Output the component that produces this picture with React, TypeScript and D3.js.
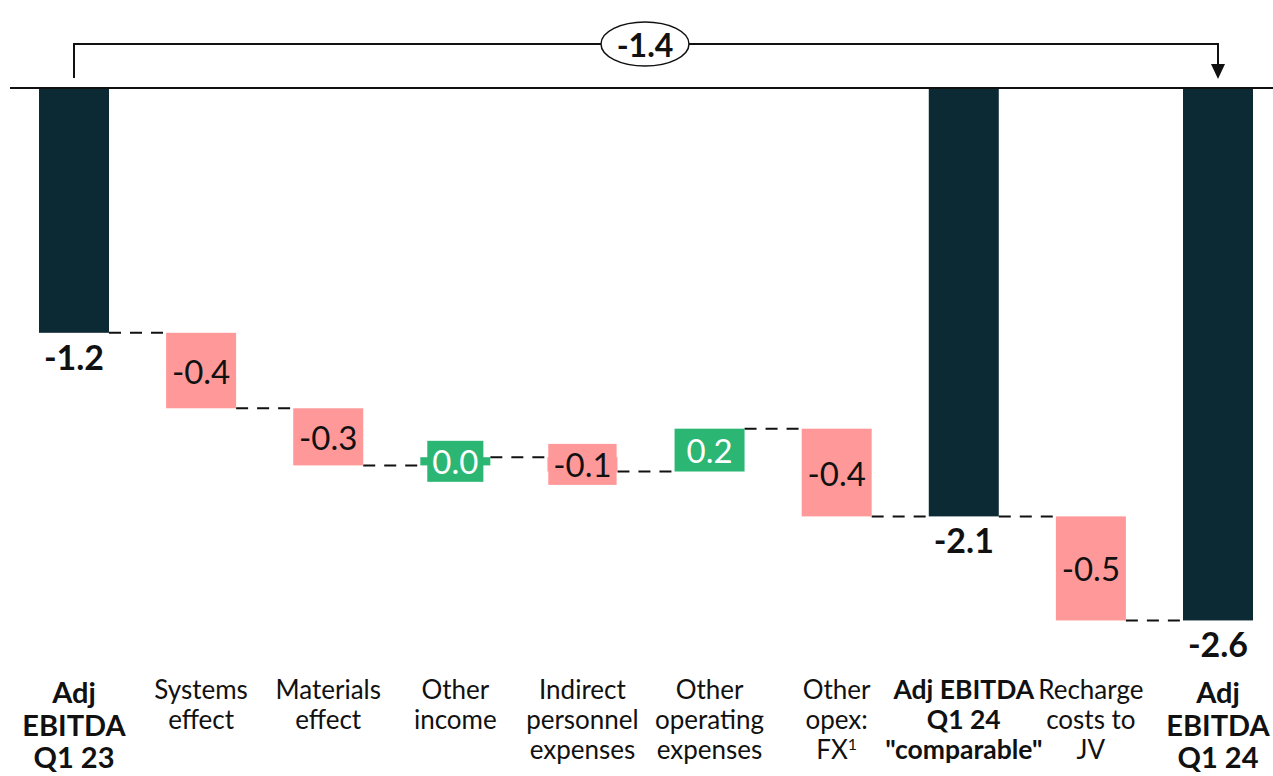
import React, { useRef, useEffect } from 'react'
import * as d3 from 'd3'

// bridge data (EUR m)
const categories = ['Adj EBITDA Q1 23', 'Systems effect', 'Materials effect', 'Other income', 'Indirect personnel expenses', 'Other operating expenses', 'Other opex: FX', 'Adj EBITDA Q1 24 comparable', 'Recharge costs to JV', 'Adj EBITDA Q1 24']
const kinds = ['total', 'delta', 'delta', 'delta', 'delta', 'delta', 'delta', 'total', 'delta', 'total']
const values = [-1.2, -0.37, -0.28, 0.04, -0.07, 0.21, -0.43, -2.1, -0.51, -2.61]
const labelLines = [
  ['Adj', 'EBITDA', 'Q1 23'],
  ['Systems', 'effect'],
  ['Materials', 'effect'],
  ['Other', 'income'],
  ['Indirect', 'personnel', 'expenses'],
  ['Other', 'operating', 'expenses'],
  ['Other', 'opex:', 'FX'],
  ['Adj EBITDA', 'Q1 24', '"comparable"'],
  ['Recharge', 'costs to', 'JV'],
  ['Adj', 'EBITDA', 'Q1 24'],
]
const footnoteIdx = 6

const DARK = '#0b2a33'
const RED = '#ff9999'
const GREEN = '#2bb673'
const FONT = 'Lato, "Open Sans", sans-serif'

function App() {
  const svgRef = useRef<SVGSVGElement>(null)

  useEffect(() => {
    const svg = d3.select(svgRef.current)
    svg.selectAll('*').remove()

    const x = d3.scalePoint<string>().domain(categories).range([74, 1218])
    const y = d3.scaleLinear().domain([0, -2.6]).range([88, 618.4])
    const bw = 70

    // running totals
    let run = 0
    const steps = categories.map((c, i) => {
      let start, end
      if (kinds[i] === 'total') { start = 0; end = values[i] }
      else { start = run; end = run + values[i] }
      run = end
      return { c, i, start, end, kind: kinds[i], v: values[i] }
    })

    // connectors
    svg.selectAll('.conn').data(steps.slice(0, -1)).join('line')
      .attr('class', 'conn')
      .attr('x1', d => x(d.c)! + bw / 2)
      .attr('x2', d => x(categories[d.i + 1])! - bw / 2)
      .attr('y1', d => y(d.end)).attr('y2', d => y(d.end))
      .attr('stroke', '#111').attr('stroke-width', 2).attr('stroke-dasharray', '12,9')

    // bars
    svg.selectAll('.bar').data(steps).join('rect')
      .attr('class', 'bar')
      .attr('x', d => x(d.c)! - bw / 2)
      .attr('y', d => y(Math.max(d.start, d.end)))
      .attr('width', bw)
      .attr('height', d => Math.abs(y(d.start) - y(d.end)))
      .attr('fill', d => d.kind === 'total' ? DARK : d.v < 0 ? RED : GREEN)

    // baseline
    svg.append('line').attr('x1', 10).attr('x2', 1273).attr('y1', y(0)).attr('y2', y(0))
      .attr('stroke', '#111').attr('stroke-width', 2)

    // delta labels
    const deltas = steps.filter(d => d.kind === 'delta')
    deltas.forEach(d => {
      const cx = x(d.c)!
      const cy = (y(d.start) + y(d.end)) / 2
      const h = Math.abs(y(d.start) - y(d.end))
      const col = d.v < 0 ? RED : GREEN
      const g = svg.append('g')
      const t = g.append('text')
        .attr('x', cx).attr('y', cy)
        .attr('text-anchor', 'middle').attr('dominant-baseline', 'central')
        .attr('font-family', FONT).attr('font-size', 33)
        .attr('fill', d.v < 0 ? '#111' : '#fff')
        .text(d.v.toFixed(1))
      if (h < 41) {
        const w = (t.node() as SVGTextElement).getComputedTextLength() + 10
        g.insert('rect', 'text').attr('x', cx - w / 2).attr('y', cy - 20.5)
          .attr('width', w).attr('height', 41).attr('fill', col)
      }
    })

    // total labels
    svg.selectAll('.tot').data(steps.filter(d => d.kind === 'total')).join('text')
      .attr('class', 'tot')
      .attr('x', d => x(d.c)!).attr('y', d => y(d.end) + 37)
      .attr('text-anchor', 'middle')
      .attr('font-family', FONT).attr('font-size', 34).attr('font-weight', 'bold')
      .attr('fill', '#111')
      .text(d => d.v.toFixed(1))

    // category labels
    steps.forEach(d => {
      const big = d.kind === 'total' && d.i !== 7
      const fs = big ? 29 : d.kind === 'total' ? 26.5 : 26
      const lh = big ? 32.5 : 30
      const y0 = big ? 703 : 699
      const t = svg.append('text')
        .attr('x', x(d.c)!).attr('text-anchor', 'middle')
        .attr('font-family', FONT).attr('font-size', fs)
        .attr('font-weight', d.kind === 'total' ? 'bold' : 'normal')
        .attr('fill', '#111')
      labelLines[d.i].forEach((ln, k) => {
        t.append('tspan').attr('x', x(d.c)!).attr('y', y0 + k * lh).text(ln)
      })
      if (d.i === footnoteIdx) {
        t.select('tspan:last-child').append('tspan')
          .attr('font-size', 16).attr('dy', -9).text('1')
      }
    })

    // top bridge bracket
    const first = steps[0], last = steps[steps.length - 1]
    const x1 = x(first.c)!, x2 = x(last.c)!
    const top = 44
    svg.append('path')
      .attr('d', `M${x1},78 V${top} H${x2} V66`)
      .attr('fill', 'none').attr('stroke', '#111').attr('stroke-width', 2)
    svg.append('path')
      .attr('d', `M${x2 - 7},64 L${x2 + 7},64 L${x2},79 Z`)
      .attr('fill', '#111')
    const mx = 645
    svg.append('ellipse').attr('cx', mx).attr('cy', top).attr('rx', 44).attr('ry', 22)
      .attr('fill', '#fff').attr('stroke', '#111').attr('stroke-width', 1.5)
    svg.append('text').attr('x', mx).attr('y', top).attr('text-anchor', 'middle')
      .attr('dominant-baseline', 'central')
      .attr('font-family', FONT).attr('font-size', 32).attr('font-weight', 'bold').attr('fill', '#111')
      .text((last.v - first.v).toFixed(1))
  }, [])

  return (
    <svg ref={svgRef} width={1273} height={776}
      style={{ position: 'absolute', left: 0, top: 0, background: '#fff' }} />
  )
}

export default App
